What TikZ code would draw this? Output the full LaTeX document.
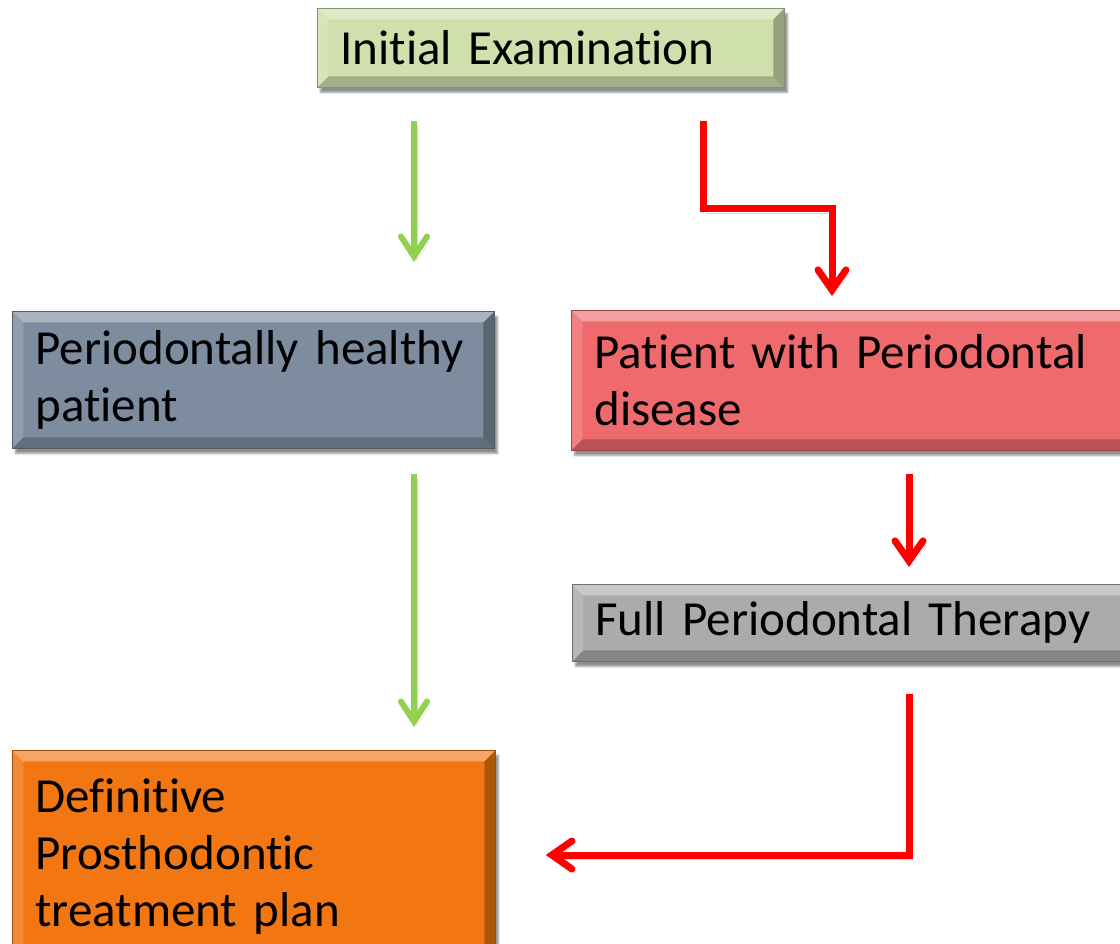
\documentclass[tikz,border=0pt]{standalone}
\usepackage{fontspec}
\setmainfont{Carlito}[Ligatures=NoCommon, WordSpace=0.8]
\usetikzlibrary{arrows.meta,calc,shadows.blur}
\definecolor{initc}{HTML}{CFE0AC}
\definecolor{healthc}{HTML}{7D8D9F}
\definecolor{diseasec}{HTML}{EE6A6C}
\definecolor{therapyc}{HTML}{ABABAB}
\definecolor{defc}{HTML}{F27612}
\definecolor{agreen}{HTML}{92D050}
\definecolor{ared}{HTML}{FF0000}
\begin{document}
\begin{tikzpicture}[x=1pt,y=-1pt,
  bevel/.style={path picture={
    \coordinate (bNW) at (path picture bounding box.north west);
    \coordinate (bNE) at (path picture bounding box.north east);
    \coordinate (bSW) at (path picture bounding box.south west);
    \coordinate (bSE) at (path picture bounding box.south east);
    \fill[white,opacity=.35] (bNW) -- (bNE) -- ([shift={(-11pt,-11pt)}]bNE) -- ([shift={(11pt,-11pt)}]bNW) -- cycle;
    \fill[white,opacity=.15] (bNW) -- (bSW) -- ([shift={(11pt,11pt)}]bSW) -- ([shift={(11pt,-11pt)}]bNW) -- cycle;
    \fill[black,opacity=.22] (bSW) -- (bSE) -- ([shift={(-11pt,11pt)}]bSE) -- ([shift={(11pt,11pt)}]bSW) -- cycle;
    \fill[black,opacity=.28] (bNE) -- (bSE) -- ([shift={(-11pt,11pt)}]bSE) -- ([shift={(-11pt,-11pt)}]bNE) -- cycle;
  }},
  box/.style={draw=#1!65!black, fill=#1, line width=0.8pt, anchor=north west,
    inner xsep=23pt, inner ysep=0pt, align=left,
    font=\fontsize{49}{57}\selectfont, bevel,
    blur shadow={shadow xshift=3pt, shadow yshift=-5pt, shadow blur steps=6, shadow opacity=45}},
  arrshadow/.style={preaction={draw=black!55, opacity=.3, transform canvas={shift={(3pt,-4pt)}}}},
  garrow/.style={draw=agreen, line width=6pt, arrshadow,
    -{Straight Barb[length=20pt,width=26pt,line cap=round]}},
  rarrow/.style={draw=ared, line width=7pt, arrshadow, line join=miter,
    -{Straight Barb[length=20pt,width=28pt,line cap=round]}},
]
\useasboundingbox (0,0) rectangle (1120,944);

\node[box=initc, minimum width=467pt, minimum height=79pt, text width=421pt] (init) at (317,8) {Initial Examination};
\node[box=healthc, minimum width=482pt, minimum height=137pt, text width=436pt] (healthy) at (12,311) {Periodontally healthy\\patient};
\node[box=diseasec, minimum width=565pt, minimum height=140pt, text width=519pt] (disease) at (571,310) {Patient with Periodontal\\disease};
\node[box=therapyc, minimum width=565pt, minimum height=77pt, text width=519pt] (therapy) at (572,584) {Full Periodontal Therapy};
\node[box=defc, minimum width=483pt, minimum height=212pt, text width=437pt] (def) at (12,750) {Definitive\\Prosthodontic\\treatment plan};

\draw[garrow] ([xshift=97pt,yshift=-33pt]init.south west) -- ([xshift=97pt,yshift=49pt]init.south west |- healthy.north);
\draw[rarrow] ([xshift=386pt,yshift=-33pt]init.south west) -- ++(0,88) -| ([xshift=261pt,yshift=14pt]disease.north west);
\draw[garrow] ([xshift=402pt,yshift=-25pt]healthy.south west) -- ([xshift=402pt,yshift=23pt]healthy.south west |- def.north);
\draw[rarrow] ([xshift=338pt,yshift=-23pt]disease.south west) -- ([xshift=338pt,yshift=17pt]disease.south west |- therapy.north);
\draw[rarrow] ([xshift=337pt,yshift=-32pt]therapy.south west) |- ([xshift=50pt,yshift=-105pt]def.north east);
\end{tikzpicture}
\end{document}
